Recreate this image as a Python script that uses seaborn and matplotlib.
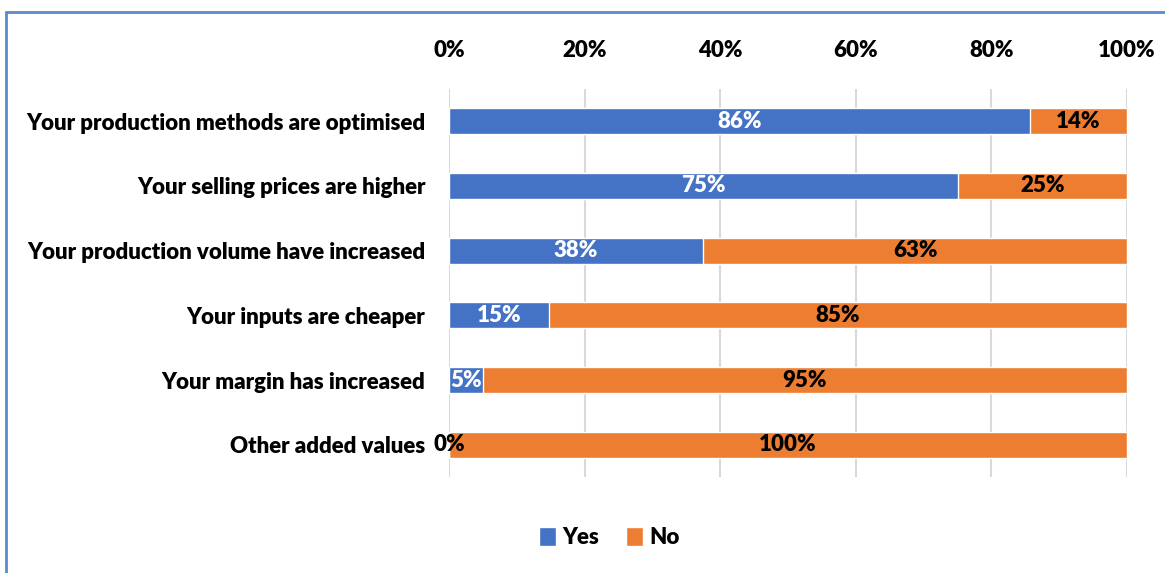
import matplotlib
matplotlib.use("Agg")
import matplotlib.pyplot as plt
import seaborn as sns
import pandas as pd
from matplotlib.ticker import PercentFormatter
from matplotlib.patches import Patch
from matplotlib.lines import Line2D

# data
categories = [
    "Your production methods are optimised",
    "Your selling prices are higher",
    "Your production volume have increased",
    "Your inputs are cheaper",
    "Your margin has increased",
    "Other added values",
]
yes = [85.7, 75, 37.5, 14.7, 5, 0]
no = [14.3, 25, 62.5, 85.3, 95, 100]

BLUE = "#4472C4"
ORANGE = "#ED7D31"
FS = 16
W = "heavy"

sns.set_theme(style="white")
plt.rcParams["font.family"] = ["Lato", "DejaVu Sans"]
plt.rcParams["font.weight"] = W
plt.rcParams["text.color"] = "black"

df = pd.DataFrame({"cat": categories, "yes": yes, "no": no})
df["total"] = df["yes"] + df["no"]

fig = plt.figure(figsize=(11.65, 5.73), dpi=100)
ax = fig.add_axes([0.3854, 0.1675, 0.582, 0.6772])

sns.barplot(data=df, x="total", y="cat", color=ORANGE, width=0.4,
            saturation=1, ax=ax, zorder=2)
sns.barplot(data=df, x="yes", y="cat", color=BLUE, width=0.4,
            saturation=1, ax=ax, zorder=3)

# labels
for i, (y_, n_) in enumerate(zip(yes, no)):
    ylab = f"{int(y_ + 0.5)}%"
    nlab = f"{int(n_ + 0.5)}%"
    if y_ > 0:
        ax.text(y_ / 2, i, ylab, ha="center", va="center", color="white",
                fontsize=FS, fontweight=W, zorder=4)
    else:
        ax.text(0, i, ylab, ha="center", va="center", color="black",
                fontsize=FS, fontweight=W, zorder=4)
    ax.text(y_ + n_ / 2, i, nlab, ha="center", va="center", color="black",
            fontsize=FS, fontweight=W, zorder=4)

ax.set_xlim(0, 100)
ax.set_ylim(5.5, -0.5)
ax.xaxis.set_major_formatter(PercentFormatter(decimals=0))
ax.set_xticks([0, 20, 40, 60, 80, 100])
ax.xaxis.tick_top()
ax.tick_params(axis="x", length=0, pad=20, labelsize=FS)
ax.tick_params(axis="y", length=0, pad=17, labelsize=FS)
for lab in ax.get_xticklabels() + ax.get_yticklabels():
    lab.set_fontweight(W)
    lab.set_color("black")
ax.set_xlabel("")
ax.set_ylabel("")
ax.grid(axis="x", color="#D9D9D9", linewidth=1.5, zorder=0)
for s in ax.spines.values():
    s.set_visible(False)

handles = [Patch(facecolor=BLUE, label="Yes"), Patch(facecolor=ORANGE, label="No")]
fig.legend(handles=handles, loc="center", bbox_to_anchor=(0.523, 0.062), ncol=2,
           frameon=False, handlelength=0.75, handleheight=0.9,
           handletextpad=0.3, columnspacing=1.2, labelcolor="black",
           prop={"size": FS, "weight": W})

# chart frame (left and top edges of the surrounding box)
fig.add_artist(Line2D([0.0055, 0.0055], [0, 0.979], color="#5B8ACF", linewidth=2))
fig.add_artist(Line2D([0.0055, 1.0], [0.979, 0.979], color="#5B8ACF", linewidth=2))

fig.savefig("out.png", dpi=100)
